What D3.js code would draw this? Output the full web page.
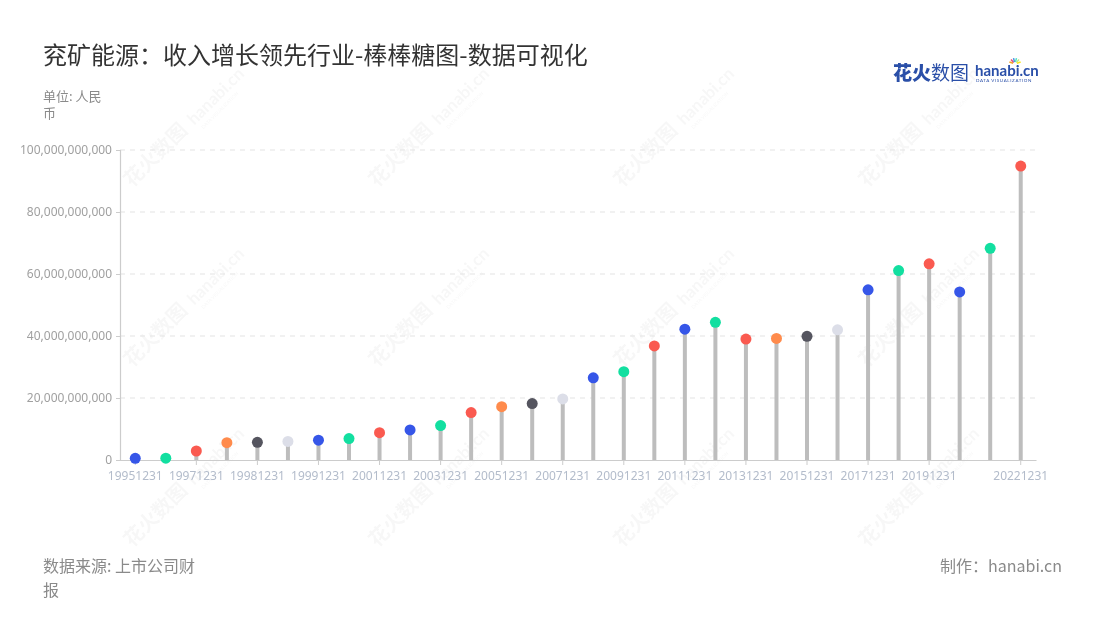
<!DOCTYPE html>
<html><head><meta charset="utf-8">
<script src="https://cdn.jsdelivr.net/npm/d3@7/dist/d3.min.js"></script>
<style>
body{margin:0;background:#fff;}
svg{display:block;font-family:"Noto Sans CJK SC","Noto Sans",sans-serif;}
</style></head>
<body><svg id="c" width="1100" height="620"></svg>
<script>
const categories = ["19951231","19961231","19971231","19980630","19981231","19990630","19991231","20001231","20011231","20021231","20031231","20041231","20051231","20061231","20071231","20081231","20091231","20101231","20111231","20121231","20131231","20141231","20151231","20161231","20171231","20181231","20191231","20201231","20211231","20221231"];
const revenue = [0.55e9,0.6e9,2.9e9,5.6e9,5.7e9,6.0e9,6.4e9,6.9e9,8.8e9,9.7e9,11.1e9,15.3e9,17.2e9,18.2e9,19.7e9,26.5e9,28.5e9,36.8e9,42.2e9,44.4e9,39.0e9,39.2e9,39.9e9,42.0e9,54.9e9,61.1e9,63.3e9,54.2e9,68.3e9,94.8e9];
const yTicks = [0,20e9,40e9,60e9,80e9,100e9];
const palette = ["#3656e8","#12dfa0","#fa5a50","#ff8b4c","#55555f","#dcdee8","#3656e8","#12dfa0","#fa5a50"];
const labelIdx = [0,2,4,6,8,10,12,14,16,18,20,22,24,26,29];

const svg = d3.select("#c");
const m = {l:120, r:1036, t:150, b:460};

// watermarks
const wm = svg.append("g").attr("fill","#000").attr("opacity",0.035);
for (let i=0;i<4;i++) for (let j=0;j<3;j++){
  const g = wm.append("g").attr("transform",`translate(${132+245*i},${188+180*j}) rotate(-45)`);
  g.append("text").attr("font-size",20).attr("font-weight",700).text("花火数图");
  g.append("text").attr("x",88).attr("font-size",17).attr("font-weight",700).attr("font-family","Lato, sans-serif").text("hanabi.cn");
  g.append("text").attr("x",92).attr("y",9).attr("font-size",5).attr("font-family","Lato, sans-serif").text("DATA VISUALIZATION");
}

const x = d3.scaleBand().domain(categories).range([m.l,m.r]);
const y = d3.scaleLinear().domain([0,100e9]).range([m.b,m.t]);

// grid
svg.append("g").selectAll("line").data(yTicks.slice(1)).join("line")
  .attr("x1",m.l).attr("x2",m.r).attr("y1",d=>y(d)).attr("y2",d=>y(d))
  .attr("stroke","#e3e3e3").attr("stroke-dasharray","5,5");

// y axis
const ya = svg.append("g").attr("transform",`translate(${m.l},0)`)
  .call(d3.axisLeft(y).tickValues(yTicks).tickSize(4).tickPadding(4).tickFormat(d3.format(",")));
ya.select(".domain").attr("stroke","#ccc").attr("stroke-width",1.2);
ya.selectAll(".tick line").attr("stroke","#ccc");
ya.selectAll("text").attr("fill","#a0a0a0").attr("font-size",12).attr("font-family","'Noto Sans', sans-serif");

// x axis
const xa = svg.append("g").attr("transform",`translate(0,${m.b})`)
  .call(d3.axisBottom(x).tickValues(labelIdx.map(i=>categories[i])).tickSize(5).tickPadding(6).tickSizeOuter(0));
xa.select(".domain").attr("stroke","#ccc").attr("stroke-width",1.2);
xa.selectAll(".tick line").attr("stroke","#ccc");
xa.selectAll("text").attr("fill","#b3bccb").attr("font-size",12).attr("font-family","'Noto Sans', sans-serif");

// stems
svg.append("g").selectAll("line").data(revenue).join("line")
  .attr("x1",(d,i)=>x(categories[i])+x.bandwidth()/2).attr("x2",(d,i)=>x(categories[i])+x.bandwidth()/2)
  .attr("y1",y(0)).attr("y2",d=>y(d)).attr("stroke","#bdbdbd").attr("stroke-width",4);
// dots
svg.append("g").selectAll("circle").data(revenue).join("circle")
  .attr("cx",(d,i)=>x(categories[i])+x.bandwidth()/2).attr("cy",d=>y(d)).attr("r",5.5)
  .attr("fill",(d,i)=>palette[i%palette.length]);

// title etc.
svg.append("text").attr("x",43).attr("y",64).attr("font-size",24).attr("fill","#333").text("兖矿能源：收入增长领先行业-棒棒糖图-数据可视化");
svg.append("text").attr("x",43).attr("y",101).attr("font-size",13).attr("fill","#8a8a8a").text("单位: 人民");
svg.append("text").attr("x",43).attr("y",118).attr("font-size",13).attr("fill","#8a8a8a").text("币");
svg.append("text").attr("x",43).attr("y",572).attr("font-size",16).attr("fill","#8a8a8a").text("数据来源: 上市公司财");
svg.append("text").attr("x",43).attr("y",596).attr("font-size",16).attr("fill","#8a8a8a").text("报");
svg.append("text").attr("x",1062).attr("y",572).attr("font-size",16).attr("text-anchor","end").attr("fill","#8a8a8a").text("制作：hanabi.cn");

// logo
const lg = svg.append("g");
lg.append("text").attr("x",893).attr("y",80).attr("font-size",19).attr("font-weight",900).attr("fill","#2a4fa8").text("花火");
lg.append("text").attr("x",931).attr("y",80).attr("font-size",19).attr("fill","#2a4fa8").text("数图");
lg.append("text").attr("x",975).attr("y",76).attr("font-size",15).attr("font-weight",700).attr("fill","#2a4fa8").attr("font-family","Lato, sans-serif").text("hanabi.cn");
lg.append("text").attr("x",976).attr("y",82).attr("font-size",4.5).attr("fill","#2a4fa8").attr("font-family","Lato, sans-serif").attr("letter-spacing",0.6).text("DATA VISUALIZATION");
const burst = ["#f5a623","#e94e77","#4a90e2","#50e3c2","#b8e986","#f8e71c"];
burst.forEach((c,i)=>{const a=(-160+i*28)*Math.PI/180;
  lg.append("line").attr("x1",1015+Math.cos(a)*2).attr("y1",64+Math.sin(a)*2).attr("x2",1015+Math.cos(a)*6).attr("y2",64+Math.sin(a)*6).attr("stroke",c).attr("stroke-width",1.5);});
</script></body></html>
